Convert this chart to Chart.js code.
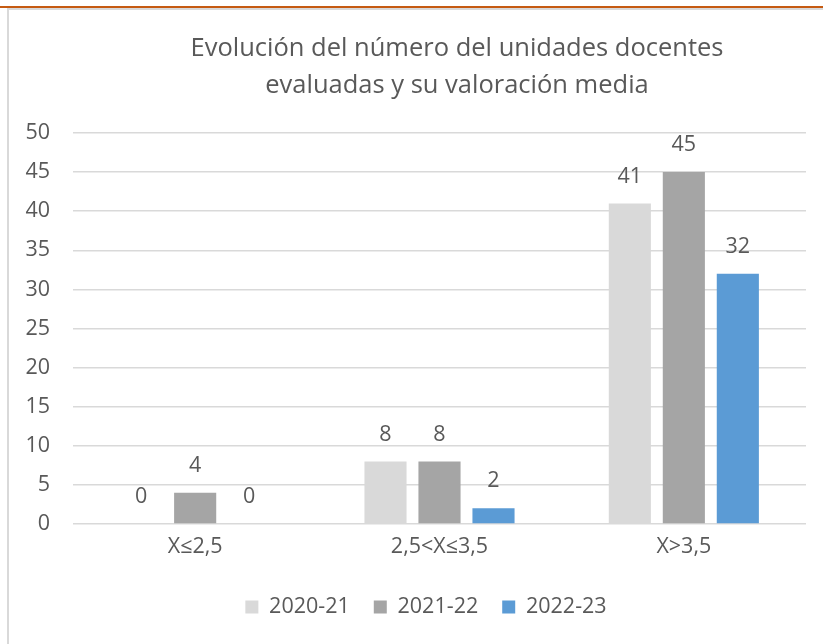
<!DOCTYPE html>
<html><head><meta charset="utf-8">
<script src="https://cdn.jsdelivr.net/npm/chart.js@4"></script>
<style>
html,body{margin:0;padding:0;background:#fff;}
#wrap{position:relative;width:823px;height:644px;overflow:hidden;background:#fff;}
#orange{position:absolute;left:0;top:6px;width:823px;height:2px;background:#c55a11;}
#frame{position:absolute;left:7px;top:8px;width:830px;height:650px;border-top:2px solid #d9d9d9;border-left:2px solid #d9d9d9;}
canvas{position:absolute;left:0;top:0;}
</style>
</head><body>
<div id="wrap"><div id="orange"></div><div id="frame"></div><canvas id="c" width="823" height="644"></canvas></div>
<script>
const categories = ['X≤2,5', '2,5<X≤3,5', 'X>3,5'];
const seriesNames = ['2020-21', '2021-22', '2022-23'];
const s2020 = [0, 8, 41];
const s2021 = [4, 8, 45];
const s2022 = [0, 2, 32];
const colors = ['#d9d9d9', '#a5a5a5', '#5b9bd5'];
const titleLines = ['Evolución del número del unidades docentes', 'evaluadas y su valoración media'];

const FONT = '"Open Sans", sans-serif';
const TXT = '#595959';
const FS = 21.5;

const valueLabels = {
  id: 'valueLabels',
  afterDatasetsDraw(chart) {
    const ctx = chart.ctx;
    ctx.save();
    ctx.font = FS + 'px ' + FONT;
    ctx.fillStyle = TXT;
    ctx.textAlign = 'center';
    ctx.textBaseline = 'middle';
    chart.data.datasets.forEach((ds, i) => {
      chart.getDatasetMeta(i).data.forEach((bar, j) => {
        ctx.fillText(String(ds.data[j]), bar.x, bar.y - 27);
      });
    });
    ctx.restore();
  }
};

// The original chart frame is wider than the visible crop: its title and legend are centred further right.
const shiftBlocks = {
  id: 'shiftBlocks',
  afterLayout(chart) {
    const t = chart.titleBlock;
    if (t) { t.left += 49; t.right += 49; }
    const l = chart.legend;
    if (l) { l.left += 18; l.right += 18; }
  }
};

const seriesData = [s2020, s2021, s2022];
function draw() {
new Chart(document.getElementById('c'), {
  type: 'bar',
  data: {
    labels: categories,
    datasets: seriesNames.map((n, i) => ({
      label: n, data: seriesData[i], backgroundColor: colors[i], borderWidth: 0,
      categoryPercentage: 0.663, barPercentage: 0.78
    }))
  },
  options: {
    responsive: false,
    animation: false,
    layout: { padding: { left: 10, right: 17, top: 0, bottom: 16.25 } },
    plugins: {
      title: {
        display: true, text: titleLines, color: TXT,
        font: { family: FONT, size: 25.5, weight: 'normal', lineHeight: '37px' },
        padding: { top: 30, bottom: 29 }
      },
      legend: {
        position: 'bottom',
        labels: { color: TXT, font: { family: FONT, size: FS }, boxWidth: 13, boxHeight: 13, padding: 24 }
      },
      tooltip: { enabled: false }
    },
    scales: {
      x: {
        grid: { display: false }, border: { display: false },
        ticks: { color: TXT, font: { family: FONT, size: FS }, padding: 2 },
        afterFit(s) { s.height = 48.25; }
      },
      y: {
        min: 0, max: 50,
        grid: { color: '#d9d9d9', drawTicks: false, lineWidth: 1.5 },
        border: { display: false },
        ticks: { stepSize: 5, color: TXT, font: { family: FONT, size: FS }, padding: 23 },
        afterFit(s) { s.width = 63; }
      }
    }
  },
  plugins: [valueLabels, shiftBlocks]
});
}
if (document.fonts && document.fonts.load) {
  Promise.all([document.fonts.load('21px "Open Sans"'), document.fonts.load('25px "Open Sans"')]).then(draw, draw);
} else { draw(); }
</script>
</body></html>
